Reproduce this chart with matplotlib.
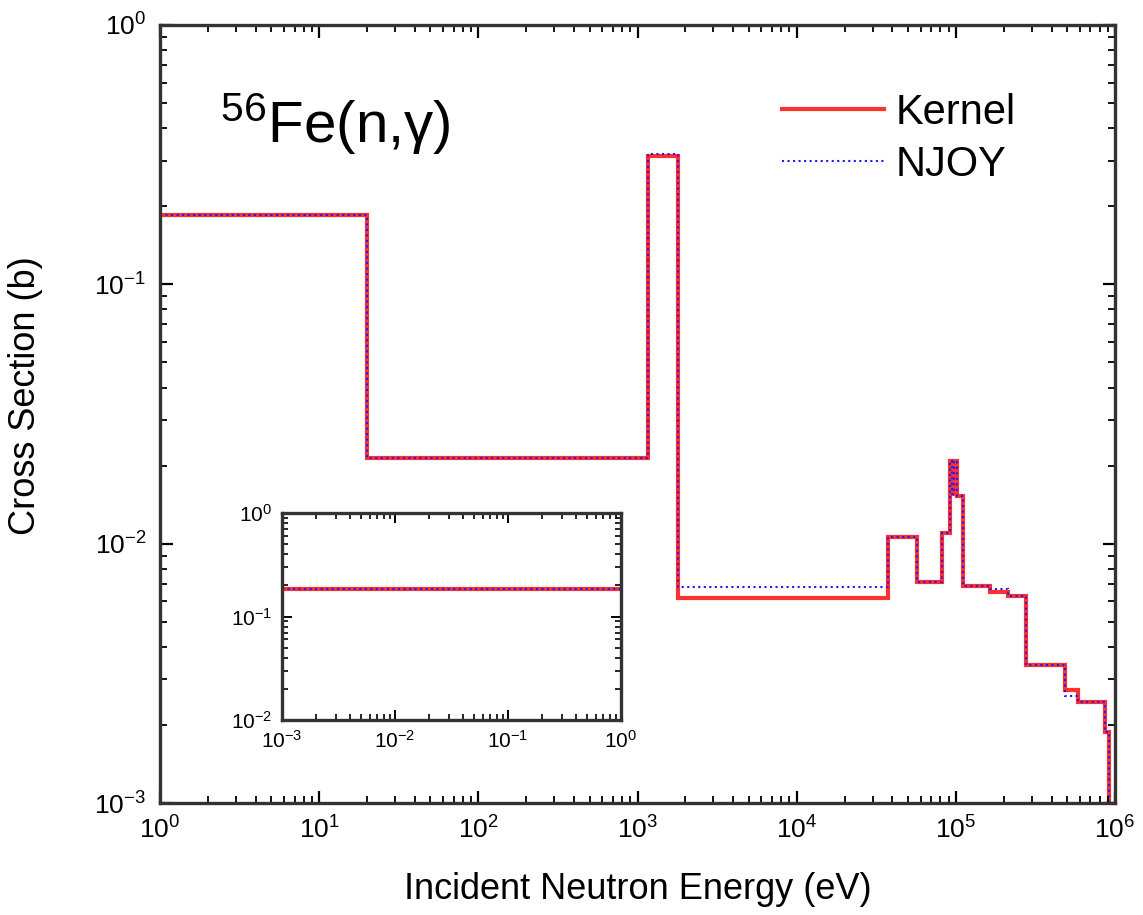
import numpy as np
import matplotlib.pyplot as plt

plt.rcParams['font.family'] = ['Liberation Sans', 'DejaVu Sans']
plt.rcParams['mathtext.default'] = 'regular'

# bin edges (eV) and group cross sections (b)
edges = [1.0, 20.0, 1160.0, 1795.0, 37400.0, 56900.0, 81700.0, 91700.0, 95000.0,
         97000.0, 101000.0, 111000.0, 163000.0, 214000.0, 275000.0, 484000.0,
         583000.0, 863000.0, 912000.0, 1.0e6]
kernel = [0.185, 0.0214, 0.312, 0.00617, 0.0106, 0.00711, 0.0110, 0.0208, 0.0155,
          0.0208, 0.0153, 0.00687, 0.0065, 0.00628, 0.0034, 0.00272, 0.00245,
          0.00188, 1.0e-4]
njoy = [0.185, 0.0214, 0.318, 0.0068, 0.0106, 0.00711, 0.0110, 0.0208, 0.0155,
        0.0208, 0.0153, 0.00687, 0.0067, 0.0063, 0.0034, 0.00258, 0.00245,
        0.00188, 1.0e-4]

# thermal region (inset)
edges_th = [1.0e-3, 1.0]
kernel_th = [0.185]
njoy_th = [0.185]

fig = plt.figure(figsize=(11.43, 9.15), dpi=100)
ax = fig.add_axes([0.140, 0.1224, 0.8355, 0.8503])

ax.stairs(kernel, edges, baseline=None, color='#ff3030', lw=3.0, label='Kernel')
ax.stairs(njoy, edges, baseline=None, color='#1a1aff', lw=1.5, ls=':', label='NJOY')

ax.set_xscale('log')
ax.set_yscale('log')
ax.set_xlim(1, 1e6)
ax.set_ylim(1e-3, 1)

ax.tick_params(which='both', direction='in', top=True, right=True, labelsize=19)
ax.tick_params(which='major', length=9, width=1.6, pad=10)
ax.tick_params(which='minor', length=5, width=1.3)
for s in ax.spines.values():
    s.set_linewidth(2.4)
    s.set_color('#333333')

ax.set_xlabel('Incident Neutron Energy (eV)', fontsize=26, labelpad=20)
ax.set_ylabel('Cross Section (b)', fontsize=26)
ax.yaxis.set_label_coords(-0.1225, 0.524)

ax.text(0.063, 0.848, '$^{56}$Fe(n,γ)', transform=ax.transAxes, fontsize=42)

ax.legend(loc='upper left', bbox_to_anchor=(0.651, 0.9126), frameon=False,
          borderpad=0, borderaxespad=0,
          fontsize=30, handlelength=2.45, handletextpad=0.29, labelspacing=0.29)

# inset
ins = fig.add_axes([0.2467, 0.2131, 0.2966, 0.2262])
ins.stairs(kernel_th, edges_th, baseline=None, color='#ff3030', lw=3.0)
ins.stairs(njoy_th, edges_th, baseline=None, color='#1a1aff', lw=1.5, ls=':')
ins.set_xscale('log')
ins.set_yscale('log')
ins.set_xlim(1e-3, 1)
ins.set_ylim(1e-2, 1)
ins.tick_params(which='both', direction='in', top=True, right=True, labelsize=15)
ins.tick_params(which='major', length=7, width=1.4, pad=7)
ins.tick_params(which='minor', length=4, width=1.2)
for s in ins.spines.values():
    s.set_linewidth(2.4)
    s.set_color('#333333')

fig.savefig('out.png', dpi=100)
